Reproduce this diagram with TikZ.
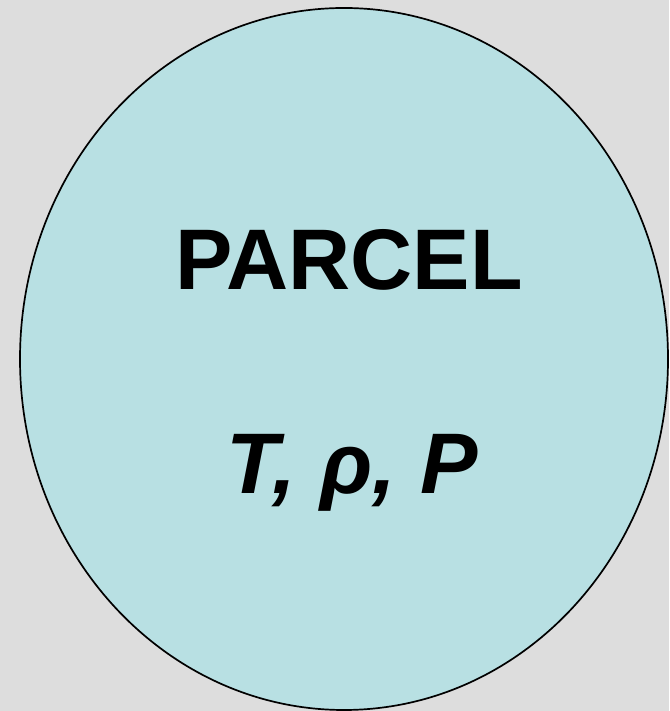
\documentclass[tikz,border=0pt]{standalone}
\usepackage{fontspec}
\setmainfont{Liberation Sans}
\definecolor{bgray}{HTML}{DDDDDD}
\definecolor{parcelfill}{HTML}{B8E0E3}
\begin{document}
\begin{tikzpicture}[x=1pt,y=1pt,
  parcelshape/.style={fill=parcelfill,draw=black,line width=1.7pt},
  bigtext/.style={font=\fontsize{86}{90}\selectfont\bfseries,inner sep=0pt,anchor=base}]
\fill[bgray] (0,0) rectangle (669,711);
\useasboundingbox (0,0) rectangle (669,711);
\draw[parcelshape] (344,352) ellipse [x radius=324, y radius=351];
\node[bigtext] (title) at (349,421) {PARCEL};
\node[bigtext,font=\fontsize{86}{90}\selectfont\bfseries\itshape] (vars) at (352,217) {T, ρ, P};
\end{tikzpicture}
\end{document}
